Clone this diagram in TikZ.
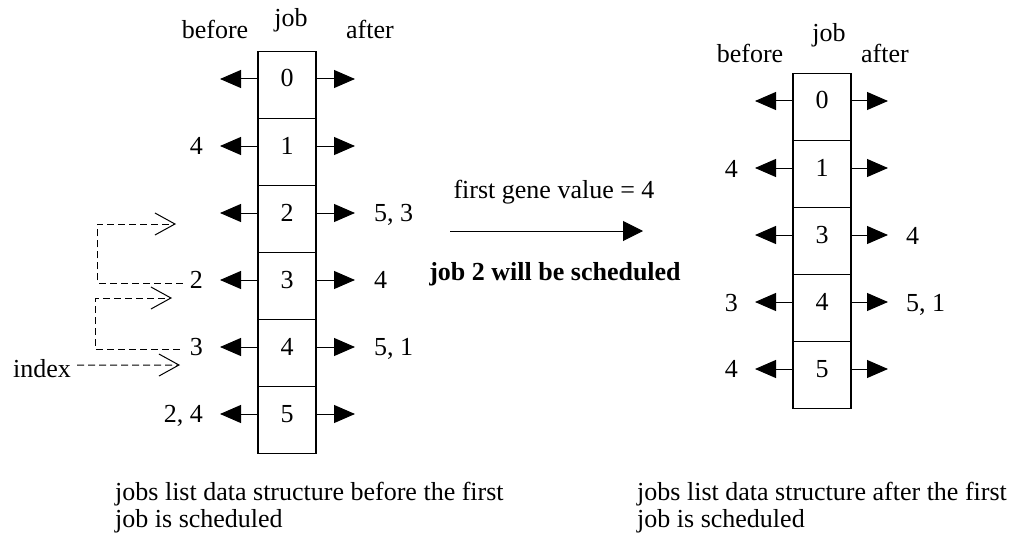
\documentclass[tikz,border=0pt]{standalone}
\usepackage{fontspec}
\setmainfont{Liberation Serif}
\usetikzlibrary{arrows.meta}

\begin{document}
\begin{tikzpicture}[x=1pt,y=-1pt,
  every node/.style={font=\fontsize{26}{30}\selectfont, inner sep=0pt},
  cellbox/.style={draw, line width=1.2pt, minimum width=58pt, minimum height=67pt, anchor=north},
  lbl/.style={anchor=base},
  lbll/.style={anchor=base east},
  lblr/.style={anchor=base west},
  ptr/.style={line width=1pt, -{Triangle[length=21pt,width=18pt]}},
  hop/.style={line width=1pt, dash pattern=on 7pt off 4pt,
              -{Straight Barb[length=20pt,width=22pt,line width=1pt]}}
]
\useasboundingbox (0,0) rectangle (1018,535);

% ---------- list before scheduling ----------
\node[lbl] (Lhb) at (215,39) {before};
\node[lbl] (Lhj) at (291,27) {job};
\node[lbl] (Lha) at (370,39) {after};
\foreach \i in {0,...,5} {
  \node[cellbox] (L\i) at (287,51+67*\i) {};
  \node[lbl] (Ld\i) at (287,87+67*\i) {\i};
  \coordinate (Lp\i) at (220,79+67*\i);
  \coordinate (Ln\i) at (355,79+67*\i);
  \draw[ptr] (L\i.west |- Lp\i) -- (Lp\i);
  \draw[ptr] (L\i.east |- Ln\i) -- (Ln\i);
}
\node[lbll] (Lb1) at (203,154) {4};
\node[lbll] (Lb3) at (203,288) {2};
\node[lbll] (Lb4) at (203,355) {3};
\node[lbll] (Lb5) at (203,422) {2, 4};
\node[lblr] (La2) at (374,221) {5, 3};
\node[lblr] (La3) at (374,288) {4};
\node[lblr] (La4) at (374,355) {5, 1};

% index hops
\node[anchor=base west] (index) at (13,377) {index};
\coordinate (hA) at (176,224);
\coordinate (hB) at (172,298);
\coordinate (hC) at (180,365);
\draw[hop] ([shift={(-7,4)}]Lb3.west) -- ++(-85,0) |- (hA);
\draw[hop] ([shift={(-10,3)}]Lb4.west) -- ++(-84,0) |- (hB);
\draw[hop] ([shift={(6,-3)}]index.east) -- (hC);

% ---------- transition ----------
\node[lbl] (gene) at (554,198) {first gene value = 4};
\coordinate (tS) at (450,231);
\coordinate (tE) at (643,231);
\draw[line width=1pt, -{Triangle[length=20pt,width=20pt]}] (tS) -- (tE);
\node[lbl] (sched) at (555,280) {\bfseries job 2 will be scheduled};

% ---------- list after scheduling ----------
\node[lbl] (Rhb) at (750,63) {before};
\node[lbl] (Rhj) at (829,42) {job};
\node[lbl] (Rha) at (885,63) {after};
\foreach \j [count=\i from 0] in {0,1,3,4,5} {
  \node[cellbox] (R\i) at (822,73+67*\i) {};
  \node[lbl] (Rd\i) at (822,109+67*\i) {\j};
  \coordinate (Rp\i) at (755,101+67*\i);
  \coordinate (Rn\i) at (888,101+67*\i);
  \draw[ptr] (R\i.west |- Rp\i) -- (Rp\i);
  \draw[ptr] (R\i.east |- Rn\i) -- (Rn\i);
}
\node[lbll] (Rb1) at (738,177) {4};
\node[lbll] (Rb3) at (738,311) {3};
\node[lbll] (Rb4) at (738,377) {4};
\node[lblr] (Ra2) at (906,244) {4};
\node[lblr] (Ra3) at (906,311) {5, 1};

% ---------- captions ----------
\node[anchor=base west] (capL1) at (115,500) {jobs list data structure before the first};
\node[anchor=base west] (capL2) at (115,527) {job is scheduled};
\node[anchor=base west] (capR1) at (637,500) {jobs list data structure after the first};
\node[anchor=base west] (capR2) at (637,527) {job is scheduled};
\end{tikzpicture}
\end{document}
